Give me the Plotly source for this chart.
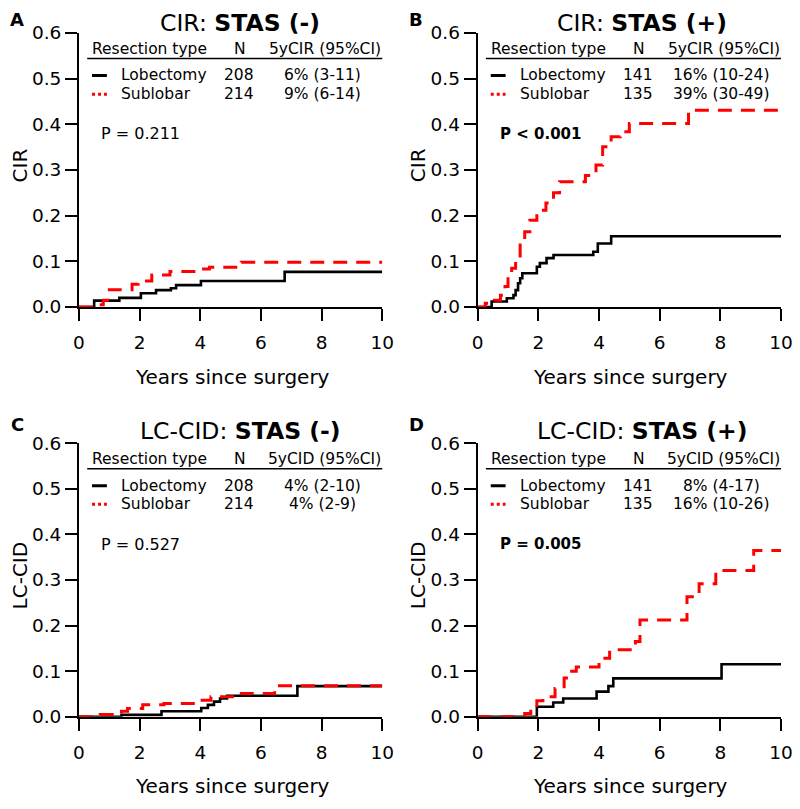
import plotly.graph_objects as go

# ---------------- data ----------------
# Panel A: CIR, STAS (-)
a_lob_t = [0, 0.5, 1.33, 2.04, 2.54, 3.03, 3.2, 4.02, 6.78, 10]
a_lob_v = [0, 0.014, 0.020, 0.030, 0.037, 0.041, 0.048, 0.057, 0.077, 0.077]
a_sub_t = [0, 0.65, 0.8, 1.0, 1.75, 1.95, 2.4, 3.0, 3.9, 4.3, 5.35, 10]
a_sub_v = [0, 0.005, 0.015, 0.038, 0.050, 0.057, 0.070, 0.078, 0.083, 0.087, 0.098, 0.098]

# Panel B: CIR, STAS (+)
b_lob_t = [0, 0.46, 0.96, 1.18, 1.25, 1.33, 1.4, 1.47, 1.95, 2.05, 2.27, 2.5, 3.81, 3.96, 4.4, 10]
b_lob_v = [0, 0.012, 0.019, 0.026, 0.037, 0.052, 0.063, 0.074, 0.088, 0.096, 0.107, 0.114, 0.121, 0.139, 0.155, 0.155]
b_sub_t = [0, 0.25, 0.55, 0.75, 0.9, 1.0, 1.12, 1.25, 1.4, 1.55, 1.72, 1.95, 2.25, 2.5, 2.7,
           3.55, 3.9, 4.12, 4.4, 4.7, 5.0, 6.95, 10]
b_sub_v = [0, 0.008, 0.015, 0.026, 0.045, 0.066, 0.085, 0.105, 0.136, 0.165, 0.190, 0.212, 0.228, 0.250, 0.274,
           0.288, 0.311, 0.351, 0.373, 0.384, 0.402, 0.431, 0.431]

# Panel C: LC-CID, STAS (-)
c_lob_t = [0, 1.4, 2.72, 4.03, 4.25, 4.45, 4.65, 4.88, 7.2, 10]
c_lob_v = [0, 0.004, 0.012, 0.019, 0.026, 0.033, 0.040, 0.046, 0.067, 0.067]
c_sub_t = [0, 0.7, 1.4, 1.6, 2.1, 2.8, 3.9, 4.35, 5.2, 6.45, 10]
c_sub_v = [0, 0.005, 0.012, 0.018, 0.026, 0.029, 0.036, 0.044, 0.051, 0.068, 0.068]

# Panel D: LC-CID, STAS (+)
d_lob_t = [0, 1.95, 2.49, 2.82, 3.92, 4.31, 4.47, 8.04, 10]
d_lob_v = [0, 0.022, 0.031, 0.040, 0.055, 0.067, 0.084, 0.115, 0.115]
d_sub_t = [0, 1.55, 1.75, 1.95, 2.15, 2.55, 2.85, 3.0, 3.25, 4.0, 4.35, 5.2, 5.35, 6.9, 7.3, 7.85, 9.1, 10]
d_sub_v = [0, 0.007, 0.020, 0.035, 0.044, 0.062, 0.085, 0.100, 0.109, 0.128, 0.147, 0.165, 0.212, 0.263,
           0.292, 0.321, 0.365, 0.365]

panel_letters = ["A", "B", "C", "D"]
panel_measures = ["CIR", "CIR", "LC-CID", "LC-CID"]
panel_stas = ["STAS (-)", "STAS (+)", "STAS (-)", "STAS (+)"]
stat_labels = ["5yCIR", "5yCIR", "5yCID", "5yCID"]
groups = ["Lobectomy", "Sublobar"]
n_lob = [208, 141, 208, 141]
n_sub = [214, 135, 214, 135]
ci_lob = ["6% (3-11)", "16% (10-24)", "4% (2-10)", "8% (4-17)"]
ci_sub = ["9% (6-14)", "39% (30-49)", "4% (2-9)", "16% (10-26)"]
p_values = ["P = 0.211", "P < 0.001", "P = 0.527", "P = 0.005"]
p_bold = [False, True, False, True]

x_ticks = [0, 2, 4, 6, 8, 10]
y_ticks = [0.0, 0.1, 0.2, 0.3, 0.4, 0.5, 0.6]
x_title = "Years since surgery"

series = [
    (a_lob_t, a_lob_v, a_sub_t, a_sub_v),
    (b_lob_t, b_lob_v, b_sub_t, b_sub_v),
    (c_lob_t, c_lob_v, c_sub_t, c_sub_v),
    (d_lob_t, d_lob_v, d_sub_t, d_sub_v),
]

# ---------------- layout ----------------
OFF = 8                      # page body margin of the browser
W, H = 800 - OFF, 809 - OFF
FONT = "DejaVu Sans"
RED = "#FF0000"

x_left = [79.0 - OFF, 477.7 - OFF]     # pixel x of t=0
x_right = [382.3 - OFF, 781.0 - OFF]   # pixel x of t=10
y_zero = [307.0 - OFF, 716.7 - OFF]    # pixel y of value 0
y_top = [33.0 - OFF, 443.3 - OFF]      # pixel y of value 0.6

x_doms = [[x_left[c] / W, x_right[c] / W] for c in range(2)]
y_doms = [[1 - y_zero[r] / H, 1 - y_top[r] / H] for r in range(2)]

title_left_t = [2.6, 2.55, 1.95, 1.89]
TITLE_SIZE = 23.5
LETTER_SIZE = 18

fig = go.Figure()
annotations = []
shapes = []

for i in range(4):
    col = i % 2
    row = i // 2
    sfx = "" if i == 0 else str(i + 1)
    xa, ya = "x" + sfx, "y" + sfx
    lt, lv, st, sv = series[i]

    fig.add_trace(go.Scatter(x=lt, y=lv, mode="lines", line=dict(color="black", width=2.6, shape="hv"),
                             xaxis=xa, yaxis=ya, showlegend=False, hoverinfo="skip"))
    fig.add_trace(go.Scatter(x=st, y=sv, mode="lines",
                             line=dict(color=RED, width=3, shape="hv", dash="14px,9px"),
                             xaxis=xa, yaxis=ya, showlegend=False, hoverinfo="skip"))

    axis_common = dict(showline=True, linecolor="black", linewidth=2, ticks="outside", ticklen=12,
                       tickwidth=2, tickcolor="black", showgrid=False, zeroline=False, automargin=False,
                       tickfont=dict(family=FONT, size=18.5, color="black"))
    fig.layout["xaxis" + sfx] = dict(domain=x_doms[col], range=[0, 10], tickvals=x_ticks,
                                     anchor=ya, ticklabelstandoff=6, **axis_common)
    fig.layout["yaxis" + sfx] = dict(domain=y_doms[row], range=[0, 0.6], tickvals=y_ticks,
                                     tickformat=".1f", anchor=xa, **axis_common)

    xs = (x_right[col] - x_left[col]) / 10.0
    ys = (y_zero[row] - y_top[row]) / 0.6

    def to_paper(t, v):
        px = x_left[col] + t * xs
        py = y_zero[row] - v * ys
        return px / W, 1 - py / H

    def ann(t, v, text, size=15.5, xanchor="center", bold=False, min_top=None):
        px, py = to_paper(t, v)
        if min_top is not None:
            py = min(py, 1 - min_top / H)
        annotations.append(dict(x=px, y=py, xref="paper", yref="paper",
                                text=("<b>%s</b>" % text) if bold else text,
                                showarrow=False, xanchor=xanchor, yanchor="middle",
                                font=dict(family=FONT, size=size, color="black")))

    # title & panel letter (kept fully inside the page)
    ann(title_left_t[i], 0.628, panel_measures[i] + ": <b>" + panel_stas[i] + "</b>", size=TITLE_SIZE,
        xanchor="left", min_top=(1.164 * TITLE_SIZE + 2) / 2)
    ann(-2.03, 0.641, panel_letters[i], size=LETTER_SIZE, bold=True,
        min_top=(1.164 * LETTER_SIZE + 2) / 2)
    # axis titles
    ann(5.05, -0.153, x_title, size=20)
    _, yt_py = to_paper(0, 0.31)
    annotations.append(dict(x=(x_left[col] - 79.0 + OFF + 12.0) / W, y=yt_py, xref="paper", yref="paper",
                            text=panel_measures[i], textangle=-90, showarrow=False,
                            xanchor="center", yanchor="middle",
                            font=dict(family=FONT, size=20, color="black")))
    # legend table
    ann(0.36, 0.565, "Resection type", xanchor="left")
    ann(5.31, 0.565, "N")
    ann(8.11, 0.565, stat_labels[i] + " (95%CI)")
    ann(1.33, 0.507, groups[0], xanchor="left")
    ann(5.29, 0.507, str(n_lob[i]))
    ann(8.03, 0.507, ci_lob[i])
    ann(1.33, 0.466, groups[1], xanchor="left")
    ann(5.29, 0.466, str(n_sub[i]))
    ann(8.03, 0.466, ci_sub[i])
    ann(0.66, 0.379, p_values[i], size=15 if p_bold[i] else 16, xanchor="left", bold=p_bold[i])

    shapes.append(dict(type="line", xref=xa, yref=ya, x0=0.27, x1=10.09, y0=0.544, y1=0.544,
                       line=dict(color="black", width=1.5)))
    shapes.append(dict(type="line", xref=xa, yref=ya, x0=0.43, x1=0.92, y0=0.507, y1=0.507,
                       line=dict(color="black", width=3)))
    shapes.append(dict(type="line", xref=xa, yref=ya, x0=0.43, x1=0.92, y0=0.466, y1=0.466,
                       line=dict(color=RED, width=3, dash="dot")))

fig.update_layout(width=W, height=H, margin=dict(l=0, r=0, t=0, b=0, autoexpand=False),
                  paper_bgcolor="white", plot_bgcolor="white",
                  annotations=annotations, shapes=shapes, showlegend=False)

fig.write_html("out.html")
